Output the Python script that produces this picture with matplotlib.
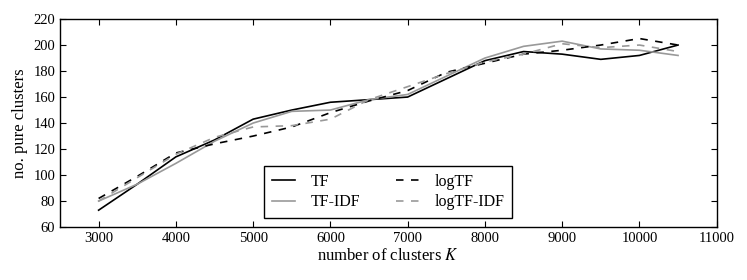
import matplotlib
matplotlib.use("Agg")
import matplotlib.pyplot as plt

plt.rcParams['font.family'] = ['Liberation Serif', 'DejaVu Serif']
plt.rcParams['mathtext.fontset'] = 'stix'

K = [3000, 3500, 4000, 4500, 5000, 5500, 6000, 6500, 7000, 7500, 8000, 8500, 9000, 9500, 10000, 10500]
tf = [73, 93, 114, 127, 143, 150, 156, 158, 160, 174, 188, 195, 193, 189, 192, 200]
tfidf = [80, 93, 109, 126, 140, 149, 150, 158, 162, 176, 190, 199, 203, 197, 196, 192]
logtf = [82, 99, 117, 124, 130, 137, 148, 157, 165, 179, 186, 193, 196, 200, 205, 200]
logtfidf = [80, 98, 116, 129, 137, 138, 143, 158, 168, 178, 187, 193, 201, 198, 200, 195]

fig = plt.figure(figsize=(7.47, 2.8), dpi=100)
ax = fig.add_axes([0.0803, 0.189, 0.8791, 0.743])

dash = (0, (4.5, 4.5))
ax.plot(K, tf, color='black', lw=1.2, label='TF')
ax.plot(K, tfidf, color='#999999', lw=1.2, label='TF-IDF')
ax.plot(K, logtf, color='black', lw=1.2, ls=dash, label='logTF')
ax.plot(K, logtfidf, color='#999999', lw=1.2, ls=dash, label='logTF-IDF')

ax.set_xlim(2500, 11000)
ax.set_ylim(60, 220)
ax.set_xticks(range(3000, 11001, 1000))
ax.set_yticks(range(60, 221, 20))
ax.tick_params(direction='in', top=True, right=True, labelsize=10.5, length=4, width=0.8)
for s in ax.spines.values():
    s.set_linewidth(1.0)

ax.set_xlabel('number of clusters $K$', fontsize=12, labelpad=2)
ax.set_ylabel('no. pure clusters', fontsize=12, labelpad=4)

leg = ax.legend(loc='lower center', ncol=2, fontsize=11.5, frameon=True, fancybox=False,
                edgecolor='black', framealpha=1, handlelength=1.45, handletextpad=0.95,
                columnspacing=2.25, borderpad=0.5, labelspacing=0.3, borderaxespad=0.55)
leg.get_frame().set_linewidth(1.0)

fig.savefig('out.png', dpi=100)
